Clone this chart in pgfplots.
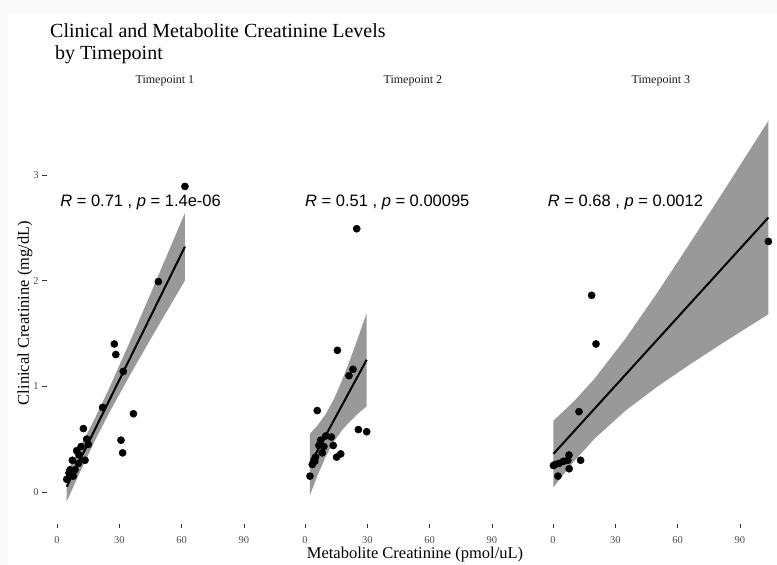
\documentclass[border=0pt]{standalone}
\usepackage{fontspec}
\setmainfont{Liberation Serif}
\newfontfamily\arial{Liberation Sans}
\usepackage{pgfplots}
\pgfplotsset{compat=1.18}
\definecolor{band}{RGB}{153,153,153}
\definecolor{ticklab}{RGB}{77,77,77}
\definecolor{outer}{RGB}{249,249,249}
\newcommand{\tT}{\fontsize{10.5}{12}\selectfont}
\newcommand{\tS}{\fontsize{12}{14}\selectfont}
\newcommand{\tA}{\fontsize{16.5}{18}\selectfont}

\pgfplotsset{panel/.style={
  scale only axis, width=236.6pt, height=425pt,
  anchor=south west,
  xmin=-5, xmax=108.9, ymin=-0.30, ymax=3.72,
  xtick={0,30,60,90}, ytick={0,1,2,3},
  axis line style={draw=none},
  tick align=outside, tick pos=left,
  major tick length=4.5pt,
  major tick style={draw=black!80, line width=0.6pt},
  tick label style={font=\tT, text=ticklab},
  xticklabel style={yshift=-5pt},
  /pgf/number format/assume math mode=true,
  title style={font=\tS, text=black!90, at={(0.5,1)}, anchor=base, yshift=9pt},
}}

\begin{document}
\begin{tikzpicture}[x=1pt,y=1pt]
\useasboundingbox (0,0) rectangle (777,565);
\fill[outer] (0,0) rectangle (777,565);
\fill[white] (8,0) rectangle (777,551);

% ---------- title and shared axis titles ----------
\node[anchor=base west, inner sep=0, font=\fontsize{20}{22}\selectfont] at (50,527) {Clinical and Metabolite Creatinine Levels};
\node[anchor=base west, inner sep=0, font=\fontsize{20}{22}\selectfont] at (55,505) {by Timepoint};
\node[rotate=90, font=\tA] at (25,252) {Clinical Creatinine (mg/dL)};
\node[anchor=base, inner sep=0, font=\tA] at (415,6.5) {Metabolite Creatinine (pmol/uL)};

% ---------- Timepoint 1 ----------
\begin{axis}[panel, at={(46.6pt,41.3pt)}, title={Timepoint 1}]
\addplot[fill=band, draw=none] coordinates {
  (4.7,0.19) (10,0.380) (18,0.686) (25,0.976) (35,1.417) (45,1.873) (55,2.334) (61.6,2.640)
  (61.6,2.000) (55,1.780) (45,1.444) (35,1.101) (25,0.744) (18,0.476) (10,0.142) (4.7,-0.09)
} -- cycle;
\addplot[black, line width=2pt] coordinates {(4.7,0.05) (61.6,2.32)};
\addplot[only marks, mark=*, mark size=3.6pt, black] coordinates {
  (61.6,2.89) (48.8,1.99) (27.6,1.40) (28.3,1.30) (31.9,1.14) (22.0,0.80)
  (36.8,0.74) (30.8,0.49) (31.6,0.37) (12.7,0.60) (14.3,0.50) (15.1,0.45)
  (11.6,0.43) (9.5,0.39) (10.6,0.35) (13.5,0.30) (7.4,0.30) (10.3,0.27)
  (6.3,0.21) (8.7,0.21) (7.9,0.15) (4.7,0.12) (5.8,0.18)
};
\node[anchor=base west, inner sep=0, font=\arial\tA] at (axis cs:1.5,2.70)
  {\textit{R} = 0.71 , \textit{p} = 1.4e-06};
\end{axis}

% ---------- Timepoint 2 ----------
\begin{axis}[panel, at={(294.6pt,41.3pt)}, title={Timepoint 2}, ytick=\empty]
\addplot[fill=band, draw=none] coordinates {
  (2.4,0.55) (6,0.628) (10,0.737) (14,0.882) (18,1.063) (22,1.268) (26,1.485) (29.7,1.691)
  (29.7,0.811) (26,0.749) (22,0.674) (18,0.589) (14,0.480) (10,0.335) (6,0.154) (2.4,-0.03)
} -- cycle;
\addplot[black, line width=2pt] coordinates {(2.4,0.26) (29.7,1.251)};
\addplot[only marks, mark=*, mark size=3.6pt, black] coordinates {
  (24.9,2.49) (15.6,1.34) (23.1,1.16) (21.2,1.10) (5.9,0.77) (25.7,0.59)
  (29.7,0.57) (12.7,0.52) (10.0,0.53) (7.6,0.49) (6.7,0.44) (13.6,0.44)
  (9.1,0.43) (8.3,0.37) (17.2,0.36) (15.2,0.33) (5.1,0.33) (4.7,0.29)
  (3.5,0.26) (4.3,0.30) (2.4,0.15)
};
\node[anchor=base west, inner sep=0, font=\arial\tA] at (axis cs:0.0,2.70)
  {\textit{R} = 0.51 , \textit{p} = 0.00095};
\end{axis}

% ---------- Timepoint 3 ----------
\begin{axis}[panel, at={(542.6pt,41.3pt)}, title={Timepoint 3}, ytick=\empty]
\addplot[fill=band, draw=none] coordinates {
  (0.2,0.675) (10,0.856) (20,1.072) (35,1.454) (50,1.879) (65,2.325) (80,2.781) (95,3.242) (103.7,3.511)
  (103.7,1.681) (95,1.574) (80,1.387) (65,1.195) (50,0.993) (35,0.771) (20,0.504) (10,0.288) (0.2,0.045)
} -- cycle;
\addplot[black, line width=2pt] coordinates {(0.2,0.36) (103.7,2.596)};
\addplot[only marks, mark=*, mark size=3.6pt, black] coordinates {
  (103.7,2.37) (18.6,1.86) (20.7,1.40) (12.5,0.76) (13.3,0.30) (7.7,0.35)
  (7.1,0.30) (5.0,0.29) (7.8,0.22) (2.9,0.27) (1.0,0.26) (0.2,0.25) (2.4,0.15)
};
\node[anchor=base west, inner sep=0, font=\arial\tA] at (axis cs:-2.5,2.70)
  {\textit{R} = 0.68 , \textit{p} = 0.0012};
\end{axis}
\end{tikzpicture}
\end{document}
